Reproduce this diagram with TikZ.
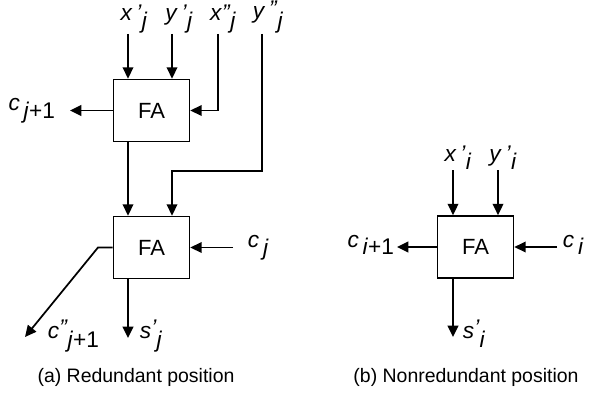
\documentclass[tikz,border=0pt]{standalone}
\usepackage{fontspec}
\setmainfont{Liberation Sans}
\usetikzlibrary{arrows.meta}
% label with index lowered after the primes
\newcommand{\sigA}[3]{\textit{#1}#2\raisebox{-0.65ex}{#3}}
% label with primes close over the index
\newcommand{\sigB}[3]{\textit{#1}\raisebox{0.2ex}{\textit{#2}}\raisebox{-0.8ex}{#3}}

\begin{document}
\begin{tikzpicture}[x=0.75pt,y=-0.75pt,
  fa/.style={draw,line width=1.3pt,minimum width=57pt,minimum height=46.5pt,
    inner sep=0pt,font=\fontsize{16.5}{19}\selectfont},
  lbl/.style={inner sep=0.5pt,font=\fontsize{17}{20}\selectfont},
  captxt/.style={inner sep=0pt,anchor=base,font=\fontsize{14.6}{17}\selectfont},
  sig/.style={line width=1.3pt,-{Triangle[length=8.5pt,width=8pt]}}]
  \useasboundingbox (0,0) rectangle (591,392);

  % (a) redundant position
  \node[fa] (fa1) at (151.5,110.5) {FA};
  \node[fa] (fa2) at (151.5,247.5) {FA};
  \coordinate (xa) at (128,34);
  \coordinate (ya) at (172,34);
  \coordinate (xb) at (218,34);
  \coordinate (yb) at (262,34);
  \coordinate (ybk) at (172,171);
  \coordinate (cout1) at (70,110.5);
  \coordinate (cin2) at (233,247.5);
  \coordinate (cbend) at (98,247.5);
  \coordinate (cout2) at (25,337);
  \coordinate (sout2) at (128,338);
  \node[lbl,anchor=south] (lxa) at (134,34) {\sigA{x}{\,\textit{'}}{\textit{j}}};
  \node[lbl,anchor=south] (lya) at (179,34) {\sigA{y}{\,\textit{'}}{\textit{j}}};
  \node[lbl,anchor=south] (lxb) at (223,34) {\sigA{x}{\textit{''}}{\textit{j}}};
  \node[lbl,anchor=south] (lyb) at (268,34) {\sigB{y}{\,''}{\textit{j}}};
  \node[lbl,anchor=base east] (lcout1) at (56,110.5) {\sigA{c}{}{\,\textit{j}+1}};
  \node[lbl,anchor=base west] (lcin2) at (247,247.5) {\sigA{c}{}{\,\textit{j}}};
  \node[lbl,anchor=base west] (lcout2) at (47,338) {\sigB{c}{''}{\textit{j}+1}};
  \node[lbl,anchor=base west] (lsout2) at (139,338) {\sigB{s}{'}{\textit{j}}};
  \draw[sig] (xa) -- (xa |- fa1.north);
  \draw[sig] (ya) -- (ya |- fa1.north);
  \draw[sig] (xb) |- (fa1.east);
  \draw[sig] (yb) |- (ybk) -- (ybk |- fa2.north);
  \draw[sig] (fa1.south -| xa) -- (fa2.north -| xa);
  \draw[sig] (fa1.west) -- (cout1);
  \draw[sig] (cin2) -- (fa2.east);
  \draw[sig] (fa2.west) -- (cbend) -- (cout2);
  \draw[sig] (fa2.south -| xa) -- (sout2);
  \node[captxt] (capa) at (136,382) {(a) Redundant position};

  % (b) nonredundant position
  \node[fa] (fa3) at (475.5,247) {FA};
  \coordinate (xc) at (453,170);
  \coordinate (yc) at (498,170);
  \coordinate (cin3) at (557,247);
  \coordinate (cout3) at (397,247);
  \coordinate (sout3) at (453,337);
  \node[lbl,anchor=south] (lxc) at (458,170) {\sigA{x}{\,\textit{'}}{\textit{i}}};
  \node[lbl,anchor=south] (lyc) at (503,170) {\sigA{y}{\,\textit{'}}{\textit{i}}};
  \node[lbl,anchor=base east] (lcout3) at (395,247) {\sigA{c}{}{\,\textit{i}+1}};
  \node[lbl,anchor=base west] (lcin3) at (562,247) {\sigA{c}{}{\,\textit{i}}};
  \node[lbl,anchor=base west] (lsout3) at (462,338) {\sigB{s}{'}{\textit{i}}};
  \draw[sig] (xc) -- (xc |- fa3.north);
  \draw[sig] (yc) -- (yc |- fa3.north);
  \draw[sig] (cin3) -- (fa3.east);
  \draw[sig] (fa3.west) -- (cout3);
  \draw[sig] (fa3.south -| xc) -- (sout3);
  \node[captxt] (capb) at (466,382) {(b) Nonredundant position};
\end{tikzpicture}
\end{document}
